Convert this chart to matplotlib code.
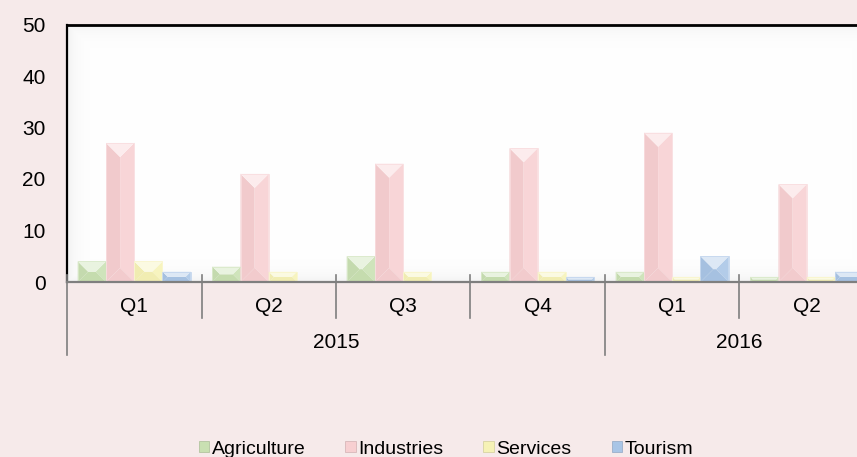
import numpy as np
import matplotlib
matplotlib.use("Agg")
import matplotlib.pyplot as plt
from matplotlib.patches import Polygon, Patch
from matplotlib.colors import to_rgb
import matplotlib.transforms as mtransforms

plt.rcParams['font.family'] = ['Liberation Sans', 'DejaVu Sans']

# data
quarters = ['Q1', 'Q2', 'Q3', 'Q4', 'Q1', 'Q2']
years = ['2015', '2016']
quarters_per_year = [4, 2]
series_names = ['Agriculture', 'Industries', 'Services', 'Tourism']
agriculture = [4, 3, 5, 2, 2, 1]
industries = [27, 21, 23, 26, 29, 19]
services = [4, 2, 2, 2, 1, 1]
tourism = [2, 0, 0, 1, 5, 2]
series_colors = ['#c9e0b2', '#f7cfd1', '#f6f2b6', '#a9c5e6']

bg = '#f6eaea'
W, H = 857, 457
fs = 15
fig = plt.figure(figsize=(W / 100, H / 100), dpi=100, facecolor=bg)

# plot area runs past the right edge, like the cropped original
ax_l, ax_b = 67 / W, (H - 282) / H
ax_w, ax_h = 807 / W, 257.5 / H
ax = fig.add_axes([ax_l, ax_b, ax_w, ax_h])
ax.set_facecolor('white')
ncat = len(quarters)
ax.set_xlim(-0.5, ncat - 0.5)
ax.set_ylim(0, 50)

# soft inner shading of the plot area
pw, ph = int(ax_w * W), int(ax_h * H)
xx, yy = np.meshgrid(np.arange(pw), np.arange(ph))
d = np.minimum(np.minimum(xx, pw - xx), np.minimum(yy, ph - yy))
shade = 1 - 0.05 * np.exp(-d / 9.0)
ax.imshow(np.dstack([shade] * 3), extent=[0, 1, 0, 1], transform=ax.transAxes,
          aspect='auto', zorder=0, interpolation='bilinear')


def mix(c, other, t):
    c = np.array(to_rgb(c))
    return tuple(c + (np.array(other) - c) * t)


# pixels per data unit, used to keep the bevel at 45 degrees
px_x = ax_w * W / ncat
px_y = ax_h * H / 50

bar_w = 0.21
series = [agriculture, industries, services, tourism]
for s, (vals, col) in enumerate(zip(series, series_colors)):
    for j, h in enumerate(vals):
        if h <= 0:
            continue
        x0 = j - 2 * bar_w + s * bar_w
        x1 = x0 + bar_w
        by = min(bar_w / 2 * px_x / px_y, h / 2)
        bx = by * px_y / px_x
        faces = [
            ([(x0, 0), (x0 + bx, by), (x0 + bx, h - by), (x0, h)], mix(col, (0, 0, 0), 0.025)),
            ([(x1, 0), (x1 - bx, by), (x1 - bx, h - by), (x1, h)], mix(col, (1, 1, 1), 0.12)),
            ([(x0, 0), (x1, 0), (x1 - bx, by), (x0 + bx, by)], mix(col, (0, 0, 0), 0.02)),
            ([(x0 + bx, by), (x1 - bx, by), (x1 - bx, h - by), (x0 + bx, h - by)], col),
            ([(x0, h), (x1, h), (x1 - bx, h - by), (x0 + bx, h - by)], mix(col, (1, 1, 1), 0.6)),
        ]
        for pts, fc in faces:
            ax.add_patch(Polygon(pts, closed=True, facecolor=fc, edgecolor='none', zorder=2))
        ax.add_patch(Polygon([(x0, 0), (x1, 0), (x1, h), (x0, h)], closed=True,
                             facecolor='none', edgecolor=mix(col, (1, 1, 1), 0.3),
                             linewidth=0.6, zorder=3))

# spines
ax.spines['right'].set_visible(False)
ax.spines['top'].set_color('black')
ax.spines['top'].set_linewidth(2)
ax.spines['left'].set_color('black')
ax.spines['left'].set_linewidth(1.6)
ax.spines['bottom'].set_color('#7f7f7f')
ax.spines['bottom'].set_linewidth(1.6)
ax.spines['bottom'].set_zorder(4)

ax.set_yticks(range(0, 51, 10))
ax.tick_params(axis='y', length=0, pad=15.5, labelsize=fs, labelcolor='black')
ax.set_xticks([])

# multi-level category axis
trans = mtransforms.blended_transform_factory(ax.transData, ax.transAxes)
pt = 1 / ax_h / H  # one pixel in axes fraction
year_starts = np.cumsum([0] + quarters_per_year)
for k in range(ncat + 1):
    bottom = -73 if k in year_starts else -36
    ax.plot([k - 0.5, k - 0.5], [7 * pt, bottom * pt], color='#7f7f7f', lw=1.2,
            transform=trans, clip_on=False, zorder=5)
for k, q in enumerate(quarters):
    ax.text(k, -24 * pt, q, transform=trans, ha='center', va='center', fontsize=fs)
for y, a, b in zip(years, year_starts[:-1], year_starts[1:]):
    ax.text((a + b - 1) / 2, -61 * pt, y, transform=trans, ha='center', va='center', fontsize=fs)

handles = [Patch(facecolor=c, edgecolor=mix(c, (0, 0, 0), 0.15), linewidth=0.5) for c in series_colors]
fig.legend(handles, series_names, loc='center', bbox_to_anchor=(446 / W, 8 / H),
           ncol=4, frameon=False, fontsize=14, handlelength=0.52, handleheight=0.52,
           handletextpad=0.15, columnspacing=2.05, borderpad=0)

fig.savefig('out.png', dpi=100, facecolor=bg)
